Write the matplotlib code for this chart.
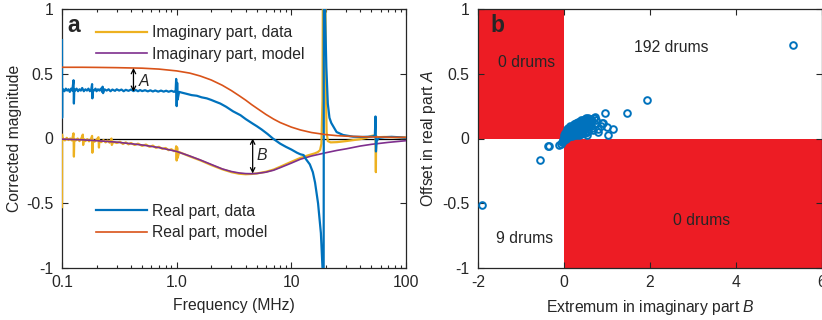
import matplotlib
matplotlib.use("Agg")
import matplotlib.pyplot as plt
from matplotlib.ticker import FixedLocator, NullFormatter, LogLocator

plt.rcParams['font.family'] = ['Liberation Sans', 'DejaVu Sans']
plt.rcParams['axes.unicode_minus'] = False
plt.rcParams['mathtext.fontset'] = 'custom'
plt.rcParams['mathtext.rm'] = 'Liberation Sans'
plt.rcParams['mathtext.it'] = 'Liberation Sans:italic'

# ---------------- Panel a data ----------------
model_f = [0.1, 0.15, 0.2, 0.3, 0.5, 0.7, 1.0, 1.3, 1.6, 2.0, 2.5, 3.0, 3.5, 4.0, 4.5,
           5.0, 6.0, 7.0, 8.0, 10, 12, 15, 20, 25, 30, 40, 50, 70, 100]
real_model = [0.55, 0.55, 0.549, 0.547, 0.543, 0.536, 0.522, 0.505, 0.483, 0.452, 0.411,
              0.370, 0.331, 0.296, 0.262, 0.234, 0.186, 0.150, 0.123, 0.088, 0.066, 0.046,
              0.030, 0.022, 0.018, 0.014, 0.012, 0.010, 0.008]
imag_model = [-0.005, -0.01, -0.017, -0.028, -0.05, -0.07, -0.10, -0.135, -0.165, -0.20,
              -0.235, -0.255, -0.266, -0.271, -0.272, -0.27, -0.26, -0.245, -0.225, -0.19,
              -0.16, -0.135, -0.11, -0.092, -0.08, -0.058, -0.045, -0.03, -0.017]

real_data_f = [0.1, 0.1002, 0.1004, 0.102, 0.105, 0.108, 0.111, 0.114, 0.117, 0.12, 0.123,
               0.126, 0.127, 0.128, 0.13, 0.134, 0.138, 0.142, 0.146, 0.15, 0.155, 0.16,
               0.165, 0.17, 0.175, 0.18, 0.183, 0.184, 0.185, 0.19, 0.196, 0.2, 0.206, 0.212,
               0.218, 0.224, 0.226, 0.228, 0.235, 0.245, 0.255, 0.265, 0.275, 0.29, 0.3,
               0.315, 0.33, 0.345, 0.36, 0.38, 0.4, 0.42, 0.44, 0.46, 0.48, 0.5, 0.53, 0.56,
               0.59, 0.62, 0.65, 0.69, 0.73, 0.77, 0.81, 0.85, 0.9, 0.95, 0.98, 0.99, 1.0,
               1.01, 1.02, 1.05, 1.1, 1.22, 1.35, 1.5, 1.65, 1.83, 2.0, 2.2, 2.4, 2.7, 3.1,
               3.6, 4.0, 4.6, 5.0, 5.5, 6.2, 6.9, 8.0, 9.0, 10, 11.2, 12, 12.8, 13.3, 14.5,
               15.4, 16.1, 17.1, 18.1, 18.7, 19.1, 19.25, 19.7, 20.2, 20.8, 21.5, 22.3, 24.8,
               28.3, 34.6, 42, 50, 53.5, 54.2, 54.7, 55.5, 58, 65, 75, 85, 100]
real_data = [0.76, 0.16, 0.37, 0.38, 0.365, 0.385, 0.37, 0.38, 0.36, 0.385, 0.37,
             0.45, 0.27, 0.38, 0.37, 0.385, 0.365, 0.38, 0.37, 0.39, 0.365, 0.38,
             0.37, 0.385, 0.365, 0.38, 0.42, 0.31, 0.375, 0.37, 0.385, 0.365, 0.38, 0.37,
             0.385, 0.36, 0.40, 0.35, 0.38, 0.37, 0.38, 0.365, 0.378, 0.368, 0.38,
             0.37, 0.378, 0.365, 0.376, 0.368, 0.378, 0.366, 0.375, 0.365, 0.374, 0.366, 0.373, 0.364,
             0.372, 0.363, 0.371, 0.362, 0.37, 0.362, 0.369, 0.361, 0.368, 0.36, 0.37, 0.46, 0.25,
             0.43, 0.30, 0.36, 0.355, 0.345, 0.335, 0.33, 0.318, 0.31, 0.298, 0.283, 0.27, 0.245, 0.21,
             0.18, 0.15, 0.115, 0.095, 0.07, 0.035, 0.0, -0.04, -0.065, -0.085, -0.11, -0.122, -0.128, -0.155, -0.2,
             -0.26, -0.34, -0.5, -0.73, -1.0, -2.0, 2.0, 0.95, 0.55, 0.27, 0.16, 0.12, 0.05,
             0.027, 0.014, 0.012, 0.015, 0.02, 0.17, -0.1, -0.02, 0.005, 0.01, 0.013, 0.01, 0.005]

imag_data_f = [0.1, 0.1002, 0.1004, 0.102, 0.106, 0.11, 0.114, 0.118, 0.122, 0.126, 0.127,
               0.128, 0.132, 0.137, 0.142, 0.147, 0.152, 0.153, 0.155, 0.16, 0.166, 0.172,
               0.178, 0.183, 0.184, 0.186, 0.192, 0.2, 0.208, 0.21, 0.212, 0.22, 0.23, 0.24,
               0.25, 0.26, 0.27, 0.272, 0.28, 0.3, 0.32, 0.34, 0.36, 0.38, 0.4, 0.43, 0.46,
               0.5, 0.54, 0.58, 0.62, 0.66, 0.7, 0.75, 0.8, 0.85, 0.9, 0.95, 0.98, 0.99, 1.0,
               1.01, 1.02, 1.05, 1.1, 1.3, 1.6, 2.0, 2.5, 3.0, 3.5, 4.0, 4.5, 5.0, 6.0, 7.0,
               8.0, 10, 12, 14, 16, 17, 17.8, 18.3, 18.7, 19.0, 19.6, 20.0, 20.3, 20.8, 22,
               25, 30, 35, 40, 45, 50, 53.5, 54.3, 54.6, 54.9, 56, 65, 80, 100]
imag_data = [-0.53, 0.03, -0.005, 0.0, -0.015, 0.005, -0.012, 0.0, -0.015, 0.04, -0.14,
             -0.005, -0.015, 0.0, -0.02, -0.002, 0.03, -0.05, -0.005, -0.02, -0.005, -0.022,
             -0.008, 0.02, -0.11, -0.01, -0.025, -0.01, 0.01, -0.07, -0.015, -0.028, -0.012, -0.03,
             -0.015, -0.032, 0.0, -0.05, -0.025, -0.035, -0.025, -0.042, -0.03, -0.045, -0.035, -0.05, -0.04,
             -0.057, -0.047, -0.064, -0.055, -0.072, -0.064, -0.08, -0.073, -0.09, -0.083, -0.098, -0.09, -0.06, -0.17,
             -0.07, -0.15, -0.105, -0.112, -0.138, -0.168, -0.205, -0.238, -0.26, -0.272, -0.276, -0.274, -0.27, -0.257, -0.24,
             -0.218, -0.18, -0.15, -0.13, -0.115, -0.105, -0.09, -0.04, 0.3, 2.0, 2.0, 0.4, 0.05, -0.02, -0.03,
             -0.028, -0.02, -0.012, -0.005, 0.005, 0.02, 0.025, 0.0, -0.26, 0.02, 0.01, 0.012, 0.01, 0.008]

freq_ticks = [0.1, 1.0, 10, 100]
freq_ticklabels = ['0.1', '1.0', '10', '100']
mag_ticks = [-1, -0.5, 0, 0.5, 1]
mag_ticklabels = ['-1', '-0.5', '0', '0.5', '1']

# ---------------- Panel b data ----------------
cluster_x = [0.01, 0.02, 0.03, 0.04, 0.05, 0.06, 0.07, 0.08, 0.09, 0.10,
             0.11, 0.12, 0.13, 0.14, 0.15, 0.16, 0.17, 0.18, 0.19, 0.20,
             0.21, 0.22, 0.23, 0.24, 0.25, 0.26, 0.27, 0.28, 0.29, 0.30,
             0.31, 0.32, 0.33, 0.34, 0.35, 0.36, 0.37, 0.38, 0.39, 0.40,
             0.41, 0.42, 0.43, 0.44, 0.45, 0.46, 0.47, 0.48, 0.49, 0.50,
             0.51, 0.52, 0.53, 0.54, 0.55, 0.56, 0.57, 0.58, 0.60, 0.62,
             0.64, 0.66, 0.68, 0.70, 0.72, 0.75, 0.05, 0.08, 0.12, 0.15,
             0.18, 0.22, 0.26, 0.30, 0.34, 0.38, 0.42, 0.46, 0.50, 0.54,
             0.58, 0.62, 0.03, 0.06, 0.10, 0.14, 0.20, 0.24, 0.28, 0.32,
             0.36, 0.40, 0.44, 0.48, 0.52, 0.56, 0.02, 0.04, 0.01, 0.01]
cluster_y = [0.005, 0.02, 0.01, 0.035, 0.02, 0.05, 0.03, 0.06, 0.015, 0.045,
             0.07, 0.03, 0.08, 0.055, 0.02, 0.075, 0.04, 0.09, 0.06, 0.03,
             0.085, 0.05, 0.095, 0.07, 0.035, 0.10, 0.06, 0.085, 0.025, 0.105,
             0.07, 0.045, 0.095, 0.11, 0.03, 0.08, 0.115, 0.055, 0.10, 0.035,
             0.12, 0.075, 0.09, 0.125, 0.05, 0.105, 0.13, 0.07, 0.04, 0.115,
             0.135, 0.085, 0.03, 0.12, 0.14, 0.06, 0.10, 0.145, 0.125, 0.15,
             0.08, 0.135, 0.065, 0.155, 0.11, 0.14, 0.0, 0.035, 0.055, 0.045,
             0.02, 0.075, 0.05, 0.08, 0.06, 0.09, 0.045, 0.08, 0.095, 0.05,
             0.11, 0.095, 0.045, 0.07, 0.08, 0.095, 0.10, 0.11, 0.12, 0.125,
             0.13, 0.14, 0.145, 0.15, 0.155, 0.16, 0.0, 0.01, 0.0, 0.03]
outlier_x = [5.32, 1.92, 1.47, 0.95, 0.72, 0.91, 1.01, 1.13, 0.78, 1.03, 0.88, 0.80, 0.85,
             -1.91, -0.56, -0.37, -0.34, -0.12, -0.08, -0.05, -0.03, -0.02]
outlier_y = [0.72, 0.297, 0.195, 0.195, 0.165, 0.12, 0.09, 0.076, 0.05, 0.027, 0.117, 0.07, 0.10,
             -0.51, -0.166, -0.055, -0.06, -0.05, -0.04, -0.03, -0.02, -0.01]

region_labels = ['0 drums', '192 drums', '9 drums', '0 drums']
region_x = [-0.88, 2.49, -0.91, 3.19]
region_y = [0.59, 0.70, -0.77, -0.63]

# ---------------- Figure ----------------
TXT = '#262626'
FS = 11.3
fig = plt.figure(figsize=(8.22, 3.2), dpi=100)
W, H = 822.0, 320.0
axa = fig.add_axes([62 / W, 52 / H, 344 / W, 259 / H])
axb = fig.add_axes([478 / W, 52 / H, 344 / W, 259 / H])

for ax in (axa, axb):
    for s in ax.spines.values():
        s.set_color(TXT)
        s.set_linewidth(0.9)
    ax.tick_params(which='both', direction='in', top=True, right=True,
                   colors=TXT, labelsize=FS, width=0.8)
    ax.tick_params(which='major', length=4)
    ax.tick_params(which='minor', length=2.5)
    ax.tick_params(axis='y', pad=6)
    ax.tick_params(axis='x', pad=5)

# Panel a
c_yel, c_pur, c_blu, c_org = '#EDB120', '#7E2F8E', '#0072BD', '#D95319'
axa.axhline(0, color='black', lw=0.9, zorder=1)
l_yd, = axa.plot(imag_data_f, imag_data, color=c_yel, lw=1.6, zorder=3)
l_pm, = axa.plot(model_f, imag_model, color=c_pur, lw=1.2, zorder=3)
l_bd, = axa.plot(real_data_f, real_data, color=c_blu, lw=1.6, zorder=3)
l_om, = axa.plot(model_f, real_model, color=c_org, lw=1.2, zorder=3)
axa.set_xscale('log')
axa.set_xlim(0.1, 100)
axa.set_ylim(-1, 1)
axa.xaxis.set_major_locator(FixedLocator(freq_ticks))
axa.set_xticklabels(freq_ticklabels)
axa.xaxis.set_minor_locator(LogLocator(base=10, subs=range(2, 10)))
axa.xaxis.set_minor_formatter(NullFormatter())
axa.set_yticks(mag_ticks)
axa.set_yticklabels(mag_ticklabels)
axa.set_xlabel('Frequency (MHz)', fontsize=FS, color=TXT, labelpad=6)
axa.set_ylabel('Corrected magnitude', fontsize=FS, color=TXT, labelpad=3)

leg_kw = dict(loc='upper left', frameon=False, fontsize=FS, handlelength=3.2,
              handletextpad=0.35, borderpad=0, borderaxespad=0, labelspacing=0.42,
              labelcolor=TXT)
leg1 = axa.legend([l_yd, l_pm], ['Imaginary part, data', 'Imaginary part, model'],
                  bbox_to_anchor=(0.1, 0.938), **leg_kw)
axa.add_artist(leg1)
axa.legend([l_bd, l_om], ['Real part, data', 'Real part, model'],
           bbox_to_anchor=(0.1, 0.248), **leg_kw)

arrow_kw = dict(arrowstyle='<->', lw=0.9, color='black', shrinkA=0, shrinkB=0,
                mutation_scale=8)
axa.annotate('', xy=(0.42, 0.36), xytext=(0.42, 0.545), arrowprops=arrow_kw)
axa.text(0.47, 0.444, 'A', fontsize=FS, fontstyle='italic', color=TXT,
         va='center', ha='left')
axa.annotate('', xy=(4.6, -0.27), xytext=(4.6, 0.0), arrowprops=arrow_kw)
axa.text(5.0, -0.13, 'B', fontsize=FS, fontstyle='italic', color=TXT,
         va='center', ha='left')
axa.text(0.017, 0.911, 'a', transform=axa.transAxes, fontsize=16.5, fontweight='bold',
         color=TXT, va='baseline', ha='left')

# Panel b
red = '#ED1C24'
axb.fill_between([-2, 0], 0, 1, color=red, lw=0, zorder=0)
axb.fill_between([0, 6], -1, 0, color=red, lw=0, zorder=0)
axb.plot(cluster_x, cluster_y, 'o', mfc='none', mec=c_blu, ms=4.8, mew=1.4, zorder=3)
axb.plot(outlier_x, outlier_y, 'o', mfc='none', mec=c_blu, ms=4.8, mew=1.4, zorder=3)
axb.set_xlim(-2, 6)
axb.set_ylim(-1, 1)
axb.set_xticks([-2, 0, 2, 4, 6])
axb.set_xticklabels(['-2', '0', '2', '4', '6'])
axb.set_yticks(mag_ticks)
axb.set_yticklabels(mag_ticklabels)
for lab, x, y in zip(region_labels, region_x, region_y):
    axb.text(x, y, lab, fontsize=FS, color=TXT, ha='center', va='center')
axb.set_xlabel('Extremum in imaginary part $B$', fontsize=FS, color=TXT, labelpad=6)
axb.set_ylabel('Offset in real part $A$', fontsize=FS, color=TXT, labelpad=3)
axb.text(0.035, 0.911, 'b', transform=axb.transAxes, fontsize=16.5, fontweight='bold',
         color=TXT, va='baseline', ha='left')

fig.savefig('out.png', dpi=100)
